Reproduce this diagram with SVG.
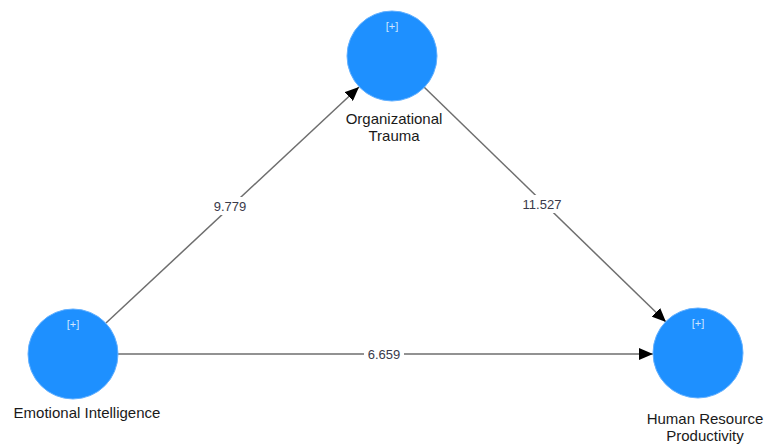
<svg xmlns="http://www.w3.org/2000/svg" width="767" height="446" viewBox="0 0 767 446">
<style>
.node{fill:#1e90ff;stroke:#62b0ff;stroke-width:1}
.plus{font-family:"Liberation Sans",Arial,sans-serif;font-size:11px;fill:#cfe6ff;text-anchor:middle}
.lbl{font-family:"Liberation Sans",Arial,sans-serif;font-size:15px;fill:#1a1a1a;text-anchor:middle}
.edge{stroke:#6e6e6e;stroke-width:1.5;fill:none;marker-end:url(#arr)}
.val{font-family:"Liberation Sans",Arial,sans-serif;font-size:13px;fill:#3a3a4a;text-anchor:middle}
.bg{fill:#ffffff}
</style>
<defs>
<marker id="arr" markerUnits="userSpaceOnUse" markerWidth="14" markerHeight="12" viewBox="0 0 14 12" refX="14" refY="6" orient="auto">
<path d="M0,0 L14,6 L0,12 Z" fill="#000"/>
</marker>
</defs>
<rect width="767" height="446" fill="#fff"/>
<g id="connectors">
<line class="edge" x1="106" y1="323" x2="359" y2="87"/>
<line class="edge" x1="424" y1="87" x2="666" y2="322"/>
<line class="edge" x1="118" y1="354" x2="653" y2="354"/>
<rect class="bg" x="210" y="197" width="40" height="18"/>
<text class="val" x="230" y="211">9.779</text>
<rect class="bg" x="520" y="195" width="44" height="18"/>
<text class="val" x="542" y="209">11.527</text>
<rect class="bg" x="364" y="346" width="40" height="17"/>
<text class="val" x="384" y="359">6.659</text>
</g>
<g id="organizational-trauma">
<circle class="node" cx="392" cy="56" r="45"/>
<text class="plus" x="392" y="30">[+]</text>
<text class="lbl" x="394" y="124">Organizational</text>
<text class="lbl" x="394" y="141">Trauma</text>
</g>
<g id="emotional-intelligence">
<circle class="node" cx="73" cy="354" r="45"/>
<text class="plus" x="73" y="328">[+]</text>
<text class="lbl" x="87" y="418">Emotional Intelligence</text>
</g>
<g id="human-resource-productivity">
<circle class="node" cx="698" cy="353" r="45"/>
<text class="plus" x="698" y="327">[+]</text>
<text class="lbl" x="705" y="424">Human Resource</text>
<text class="lbl" x="705" y="441">Productivity</text>
</g>
</svg>
